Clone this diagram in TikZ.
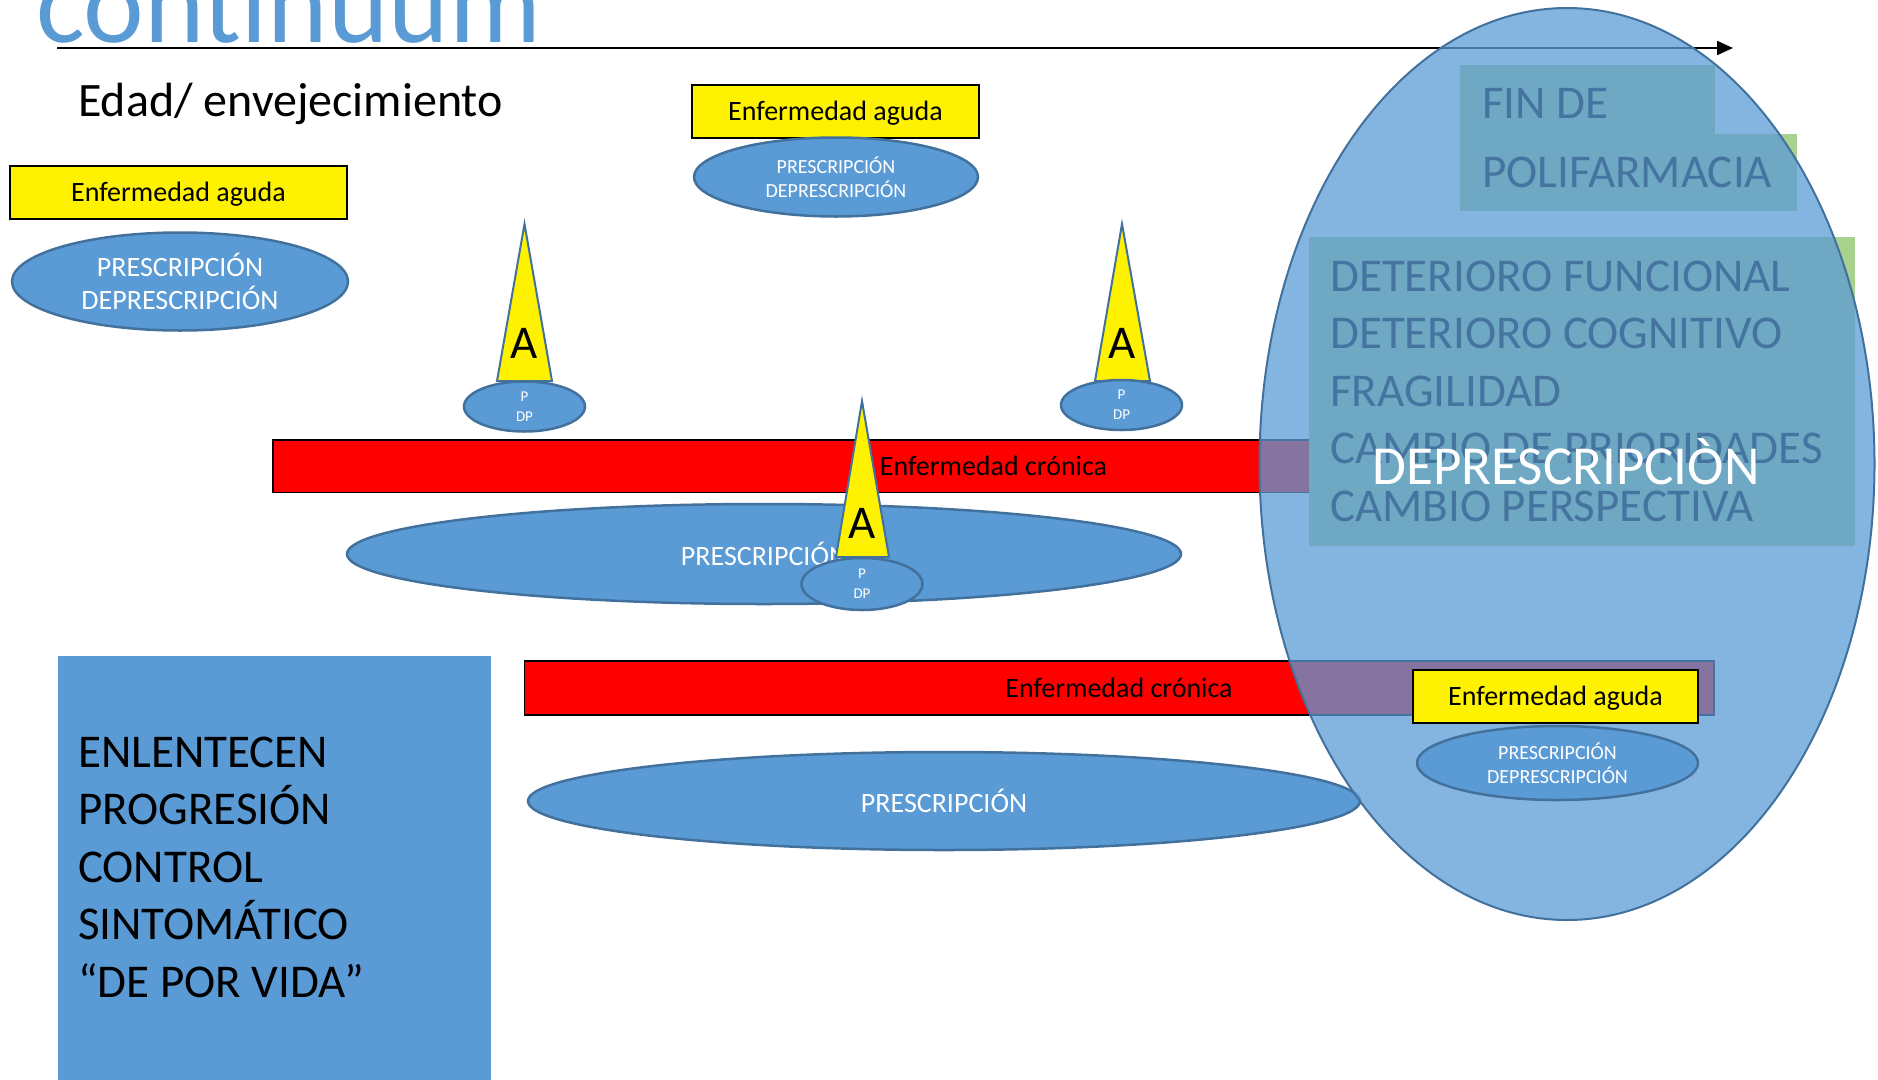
\documentclass[tikz,border=0pt]{standalone}
\usepackage{fontspec}
\setmainfont{Carlito}
\usepackage{tikz}
\usetikzlibrary{shapes.geometric,arrows.meta}

\definecolor{ppblue}{HTML}{5B9BD5}
\definecolor{ppedge}{HTML}{41719C}
\definecolor{ppgreen}{HTML}{A9D18E}

\tikzset{
  aguda/.style={draw=black,line width=2pt,fill=yellow,minimum width=#1,minimum height=53pt,
    inner sep=0pt,text depth=2pt,font=\fontsize{28}{34}\selectfont},
  presc/.style={ellipse,draw=ppedge,line width=2.5pt,fill=ppblue,text=white,inner sep=0pt,align=center},
  cronica/.style={draw=black,line width=1.5pt,fill=red,inner sep=0pt,font=\fontsize{28}{34}\selectfont},
  spike/.style={draw=ppedge,line width=2pt,fill=yellow},
  big/.style={inner sep=0pt,font=\fontsize{47}{57.5}\selectfont},
}

\begin{document}
\begin{tikzpicture}[x=1pt,y=-1pt]
        \clip (0,0) rectangle (1878,1079);
        % Title and time axis
        \node[anchor=base west,inner sep=0pt,text=ppblue,font=\fontsize{115}{130}\selectfont] (title) at (36,42) {continuum};
        \coordinate (t0) at (57,48);
        \coordinate (t1) at (1733,48);
        \draw[line width=2pt,-{Triangle[length=16pt,width=14pt]}] (t0) -- (t1);
        \node[anchor=base west,inner sep=0pt,font=\fontsize{48}{57.5}\selectfont] (edad) at (78,116) {Edad/ envejecimiento};
        % Acute disease (left)
        \node[aguda=337pt] (ag1) at (178.5,192.5) {Enfermedad aguda};
        \node[presc,minimum width=336pt,minimum height=98pt,font=\fontsize{28}{33.5}\selectfont] (pr1) at (180,281.5) {PRESCRIPCIÓN\\DEPRESCRIPCIÓN};
        % Acute disease (top)
        \node[aguda=287pt] (ag2) at (835.5,111.5) {Enfermedad aguda};
        \node[presc,minimum width=284pt,minimum height=79pt,font=\fontsize{20}{24}\selectfont] (pr2) at (836,177) {PRESCRIPCIÓN\\DEPRESCRIPCIÓN};
        % Chronic disease 1
        \node[cronica,minimum width=1441pt,minimum height=52.5pt] (cr1) at (993.5,466) {Enfermedad crónica};
        \node[presc,minimum width=834pt,minimum height=100pt,font=\fontsize{28}{34}\selectfont] (pr3) at (764,554) {PRESCRIPCIÓN};
        % Acute episodes
        \draw[spike] (524.5,224) -- (552,381) -- (497,381) -- cycle;
        \node[big] (a1) at (524.5,343) {A};
        \node[presc,minimum width=121pt,minimum height=50pt,font=\fontsize{15}{20}\selectfont] (pd1) at (524.5,406.5) {P\\DP};
        \draw[spike] (1122,224) -- (1150,381) -- (1095,381) -- cycle;
        \node[big] (a2) at (1122,343) {A};
        \node[presc,minimum width=121pt,minimum height=50pt,font=\fontsize{15}{20}\selectfont] (pd2) at (1121.5,405) {P\\DP};
        \draw[spike] (862,401) -- (889,557) -- (836,557) -- cycle;
        \node[big] (a3) at (862,523) {A};
        \node[presc,minimum width=121pt,minimum height=52pt,font=\fontsize{15}{20}\selectfont] (pd3) at (862,584) {P\\DP};
        % Chronic disease 2
        \node[cronica,minimum width=1189.5pt,minimum height=54pt] (cr2) at (1119,688) {Enfermedad crónica};
        \node[presc,minimum width=832pt,minimum height=98pt,font=\fontsize{28}{34}\selectfont] (pr4) at (944,801) {PRESCRIPCIÓN};
        % Long-term box
        \node[fill=ppblue,anchor=north west,inner sep=0pt,minimum width=433.5pt,minimum height=430pt] (largo) at (57.5,656) {};
        \foreach \t [count=\i] in {ENLENTECEN,PROGRESIÓN,CONTROL,SINTOMÁTICO,“DE POR VIDA”}
            \node[anchor=base west,big] (largo\i) at (78,{709.5+57.5*\i}) {\t};
        % End of life
        \fill[ppgreen] (1460,65) rectangle (1715,134);
        \fill[ppgreen] (1460,134) rectangle (1797,211);
        \fill[ppgreen] (1309,237) rectangle (1855,546);
        \node[anchor=base west,big] (fin1) at (1482,118) {FIN DE};
        \node[anchor=base west,big] (fin2) at (1482,187.5) {POLIFARMACIA};
        \foreach \t [count=\i] in {DETERIORO FUNCIONAL,DETERIORO COGNITIVO,FRAGILIDAD,CAMBIO DE PRIORIDADES,CAMBIO PERSPECTIVA}
            \node[anchor=base west,big] (det\i) at (1330,{233.5+57.5*\i}) {\t};
        \node[ellipse,draw=ppedge,line width=2pt,fill=ppblue,fill opacity=0.75,
            inner sep=0pt,minimum width=615pt,minimum height=912pt] (fin) at (1567,464) {};
        \node[anchor=base,inner sep=0pt,text=white,font=\fontsize{55}{60}\selectfont] (depres) at (1566,484) {DEPRESCRIPCIÒN};
        % Acute disease (late)
        \node[aguda=285pt] (ag3) at (1555.5,696.5) {Enfermedad aguda};
        \node[presc,minimum width=281pt,minimum height=74pt,font=\fontsize{20}{24}\selectfont] (pr5) at (1557.5,763) {PRESCRIPCIÓN\\DEPRESCRIPCIÓN};
\end{tikzpicture}
\end{document}
